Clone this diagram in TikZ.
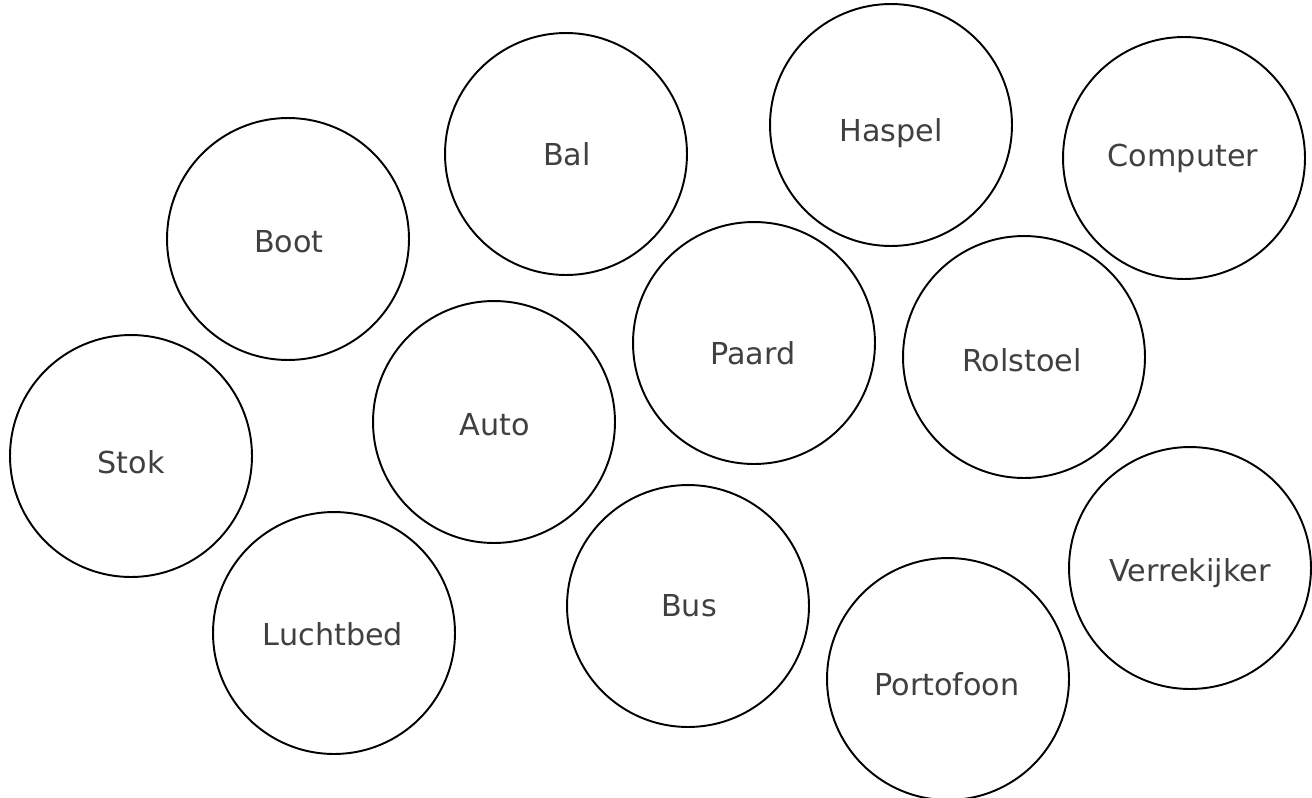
\documentclass[tikz,border=0pt]{standalone}
\usepackage{fontspec}
\setmainfont{DejaVu Sans}
\definecolor{labelgray}{HTML}{404040}
\begin{document}
\begin{tikzpicture}[x=0.02cm,y=-0.02cm,
  bubble/.style={circle,draw=black,line width=1.1pt,minimum size=4.84cm,inner sep=0pt},
  lbl/.style={text=labelgray,font=\fontsize{17.2}{20}\selectfont}]
\useasboundingbox (0,0) rectangle (1312,798);
\fill[white] (0,0) rectangle (1312,798);
\node[bubble] (boot) at (288,239) {};
\node[bubble] (bal) at (566,154) {};
\node[bubble] (haspel) at (891,125) {};
\node[bubble] (computer) at (1184,158) {};
\node[bubble] (paard) at (754,343) {};
\node[bubble] (rolstoel) at (1024,357) {};
\node[bubble] (auto) at (494,422) {};
\node[bubble] (stok) at (131,456) {};
\node[bubble] (luchtbed) at (334,633) {};
\node[bubble] (bus) at (688,606) {};
\node[bubble] (portofoon) at (948,679) {};
\node[bubble] (verrekijker) at (1190,568) {};
\node[lbl] (tboot) at (289,242) {Boot};
\node[lbl] (tbal) at (567,154) {Bal};
\node[lbl] (thaspel) at (891,133) {Haspel};
\node[lbl] (tcomputer) at (1183,158) {Computer};
\node[lbl] (tpaard) at (753,353) {Paard};
\node[lbl] (trolstoel) at (1022,360) {Rolstoel};
\node[lbl] (tauto) at (495,425) {Auto};
\node[lbl] (tstok) at (131,462) {Stok};
\node[lbl] (tluchtbed) at (333,634) {Luchtbed};
\node[lbl] (tbus) at (689,606) {Bus};
\node[lbl] (tportofoon) at (947,684) {Portofoon};
\node[lbl] (tverrekijker) at (1190,573) {Verrekijker};
\end{tikzpicture}
\end{document}
